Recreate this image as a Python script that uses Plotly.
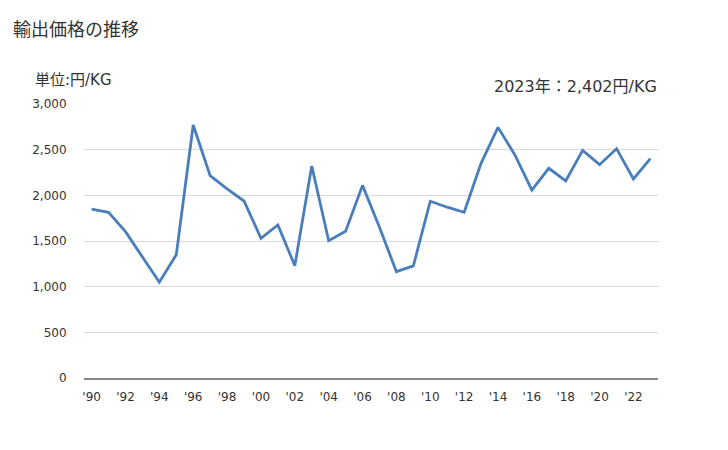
import plotly.graph_objects as go

years = list(range(1990, 2024))
prices = [1850, 1814, 1602, 1320, 1048, 1350, 2770, 2215, 2070, 1938,
          1530, 1675, 1230, 2321, 1504, 1606, 2109, 1650, 1164, 1227,
          1935, 1870, 1814, 2350, 2744, 2442, 2058, 2296, 2157, 2493,
          2336, 2511, 2179, 2402]
tick_years = list(range(1990, 2023, 2))
tick_labels = ["'" + str(y)[2:] for y in tick_years]
y_ticks = [0, 500, 1000, 1500, 2000, 2500, 3000]
y_tick_labels = ["0", "500", "1,000", "1,500", "2,000", "2,500", "3,000"]

font_family = "'DejaVu Sans', 'Noto Sans CJK JP', sans-serif"

L, R, T, B = 84, 70, 104, 72
PW, PH = 728 - L - R, 450 - T - B


def px_x(x):
    return (x - L) / PW


def px_y(y):
    return (450 - B - y) / PH


fig = go.Figure()
fig.add_trace(go.Scatter(
    x=years, y=prices, mode="lines",
    line=dict(color="#4a7ebb", width=2.8),
    hoverinfo="x+y",
))

fig.update_layout(
    width=728, height=450,
    margin=dict(l=L, r=R, t=T, b=B, autoexpand=False),
    paper_bgcolor="white", plot_bgcolor="white",
    font=dict(family=font_family, color="#333333"),
    showlegend=False,
    xaxis=dict(
        range=[1989.55, 2023.45],
        tickmode="array", tickvals=tick_years, ticktext=tick_labels,
        showgrid=False, zeroline=False,
        showline=True, linecolor="#888888", linewidth=1.5,
        ticks="outside", ticklen=7, tickcolor="rgba(0,0,0,0)",
        tickfont=dict(size=12, color="#333333"),
        fixedrange=True,
    ),
    yaxis=dict(
        range=[0, 3000],
        tickmode="array", tickvals=y_ticks, ticktext=y_tick_labels,
        showgrid=True, gridcolor="#d9d9d9", gridwidth=1,
        zeroline=False, showline=False,
        ticks="outside", ticklen=14, tickcolor="rgba(0,0,0,0)",
        tickfont=dict(size=12, color="#333333"),
        fixedrange=True,
    ),
    annotations=[
        dict(text="輸出価格の推移", xref="paper", yref="paper",
             x=px_x(11), y=px_y(29), xanchor="left", yanchor="middle",
             showarrow=False, font=dict(size=18, color="#333333")),
        dict(text="単位:円/KG", xref="paper", yref="paper",
             x=px_x(33), y=px_y(80), xanchor="left", yanchor="middle",
             showarrow=False, font=dict(size=15, color="#333333")),
        dict(text="2023年：2,402円/KG", xref="paper", yref="paper",
             x=px_x(659), y=px_y(87), xanchor="right", yanchor="middle",
             showarrow=False, font=dict(size=16, color="#333333")),
    ],
)

fig.write_html("out.html",
               config={"displayModeBar": False},
               post_script="document.body.style.margin='0';document.body.style.padding='0';")
